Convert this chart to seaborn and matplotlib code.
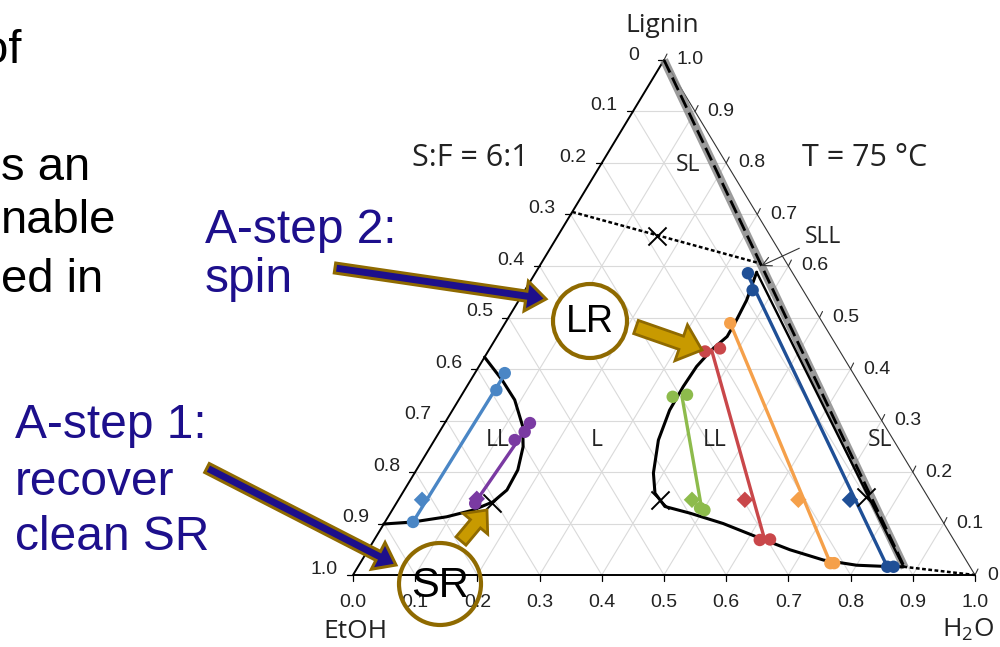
import numpy as np
import pandas as pd
import matplotlib
matplotlib.use("Agg")
import matplotlib.pyplot as plt
import seaborn as sns
from matplotlib.patches import Circle, FancyArrow

# compositions: w = H2O mass fraction, l = lignin mass fraction
left_bin_w = [0.000, 0.050, 0.090, 0.129, 0.149, 0.163, 0.165, 0.154, 0.130, 0.094, 0.045, 0.000]
left_bin_l = [0.423, 0.379, 0.340, 0.288, 0.249, 0.204, 0.165, 0.142, 0.126, 0.113, 0.103, 0.099]

right_bin_w = [0.355, 0.366, 0.369, 0.370, 0.358, 0.350, 0.348, 0.349, 0.360, 0.384,
               0.406, 0.435, 0.482, 0.545, 0.612, 0.678, 0.742, 0.800, 0.861, 0.877]
right_bin_l = [0.588, 0.534, 0.495, 0.463, 0.437, 0.405, 0.366, 0.320, 0.262, 0.198,
               0.159, 0.133, 0.120, 0.100, 0.074, 0.049, 0.029, 0.019, 0.016, 0.016]

sl_edge_w = [0.355, 0.877]          # L / SL boundary closing the right loop
sl_edge_l = [0.588, 0.016]
sl_dash_w = [0.000, 0.880]          # S-L limit from pure lignin
sl_dash_l = [1.000, 0.014]
sll_dot_w = [0.000, 0.352]          # dotted line to SLL point
sll_dot_l = [0.705, 0.605]
tail_dot_w = [0.877, 1.000]
tail_dot_l = [0.016, 0.000]

# tie lines
tie_series = ["blue", "purple", "green", "red", "orange", "navy"]
tie_colors = ["#4a86c5", "#7a3aa2", "#8dbb4c", "#c9474a", "#f5a04a", "#1f4f96"]
tie_w = [[0.045, 0.049], [0.126, 0.137], [0.356, 0.498],
         [0.358, 0.628], [0.362, 0.756], [0.345, 0.851]]
tie_l = [[0.103, 0.392], [0.139, 0.295], [0.346, 0.126],
         [0.437, 0.068], [0.489, 0.023], [0.581, 0.016]]

# measured phase compositions (circles)
phase_w = [[0.045, 0.051, 0.048], [0.127, 0.129, 0.137, 0.137], [0.341, 0.362, 0.493, 0.502],
           [0.349, 0.370, 0.620, 0.636], [0.362, 0.756, 0.762], [0.342, 0.366, 0.851, 0.861]]
phase_l = [[0.103, 0.359, 0.392], [0.139, 0.262, 0.278, 0.295], [0.346, 0.350, 0.130, 0.126],
           [0.434, 0.440, 0.068, 0.069], [0.489, 0.023, 0.023], [0.586, 0.553, 0.016, 0.016]]

# overall feed compositions (diamonds)
feed_w = [0.038, 0.125, 0.472, 0.557, 0.643, 0.726]
feed_l = [0.146, 0.148, 0.146, 0.146, 0.146, 0.146]

# critical / invariant points (crosses)
cross_w = [0.154, 0.421, 0.749, 0.160]
cross_l = [0.139, 0.146, 0.152, 0.658]

ticks = [round(0.1 * i, 1) for i in range(11)]
left_labels = ["0"] + [f"{t:.1f}" for t in ticks[1:]]        # EtOH on left edge
right_labels = [f"{t:.1f}" for t in ticks[::-1][:-1]] + ["0"]   # lignin on right edge
bottom_labels = [f"{t:.1f}" for t in ticks]                     # H2O on bottom edge

NAVY = "#1d0f8c"
GOLD = "#8f6a00"
GOLD_FILL = "#c89a00"
GRID = "#dadada"


def tern(w, l):
    w = np.asarray(w, float)
    l = np.asarray(l, float)
    return w + l / 2, l


rows = []
for name, ws, ls in zip(tie_series, tie_w, tie_l):
    x, y = tern(ws, ls)
    for i in range(len(x)):
        rows.append({"series": name, "x": x[i], "y": y[i], "order": i})
ties = pd.DataFrame(rows)

rows = []
for name, ws, ls in zip(tie_series, phase_w, phase_l):
    x, y = tern(ws, ls)
    for i in range(len(x)):
        rows.append({"series": name, "x": x[i], "y": y[i]})
phases = pd.DataFrame(rows)

fx, fy = tern(feed_w, feed_l)
feeds = pd.DataFrame({"series": tie_series, "x": fx, "y": fy})
palette = dict(zip(tie_series, tie_colors))

sns.set_theme(style="white")
plt.rcParams["font.family"] = ["Liberation Sans", "DejaVu Sans"]

fig = plt.figure(figsize=(10, 6.47), dpi=100)
ax = fig.add_axes([0, 0, 1, 1])
ax.set_xlim(-0.5675, 1.0402)
ax.set_ylim(-0.1398, 1.1165)
ax.axis("off")

# ternary grid
for v in ticks[1:-1]:
    ax.plot(*tern([0, 1 - v], [v, v]), color=GRID, lw=0.8, zorder=1)
    ax.plot(*tern([v, v], [0, 1 - v]), color=GRID, lw=0.8, zorder=1)
    ax.plot(*tern([v, 0], [0, v]), color=GRID, lw=0.8, zorder=1)

# edges
ax.plot(*tern([1, 0, 0], [0, 0, 1]), color="black", lw=1.4, zorder=2)
ax.plot(*tern([0, 1], [1, 0]), color="#333333", lw=0.8, zorder=2)

# ticks and tick labels
dx, dy = 6 / 622, 6 / 515
for t, lab in zip(ticks, left_labels):
    x, y = tern(0, 1 - t)
    ax.plot([x, x - dx], [y, y], color="black", lw=0.9, zorder=2)
    off = (-18, 3) if t == 0 else (-11, 4)
    ax.annotate(lab, (x, y), xytext=off, textcoords="offset points",
                ha="right", va="center", fontsize=14, color="#222222")
for t, lab in zip(ticks[::-1], right_labels):
    x, y = tern(1 - t, t)
    ax.plot([x, x + dx / 2], [y, y + dy], color="#333333", lw=0.8, zorder=2)
    ax.annotate(lab, (x, y), xytext=(9, 0), textcoords="offset points",
                ha="left", va="center", fontsize=14, color="#222222")
for t, lab in zip(ticks, bottom_labels):
    x, y = tern(t, 0)
    ax.plot([x, x], [y, y - dy], color="black", lw=0.9, zorder=2)
    ax.annotate(lab, (x, y), xytext=(0, -20), textcoords="offset points",
                ha="center", va="center", fontsize=14, color="#222222")

# phase boundaries
ax.plot(*tern(sl_dash_w, sl_dash_l), color="#8a8a8a", lw=6, alpha=0.85, zorder=2.5,
        solid_capstyle="butt")
ax.plot(*tern(sl_dash_w, sl_dash_l), color="black", lw=2.0, ls=(0, (5, 2)), zorder=3)
ax.plot(*tern(sll_dot_w, sll_dot_l), color="black", lw=1.8, ls=(0, (1.5, 1)), zorder=3)
ax.plot(*tern(tail_dot_w, tail_dot_l), color="black", lw=1.8, ls=(0, (1.5, 1)), zorder=3)

bx, by = tern(left_bin_w, left_bin_l)
sns.lineplot(x=bx, y=by, sort=False, estimator=None, color="black", lw=2.2, ax=ax, zorder=3)
bx, by = tern(right_bin_w, right_bin_l)
sns.lineplot(x=bx, y=by, sort=False, estimator=None, color="black", lw=2.2, ax=ax, zorder=3)
ax.plot(*tern(sl_edge_w, sl_edge_l), color="black", lw=1.7, zorder=3)

# tie lines, phase points and feeds
sns.lineplot(data=ties, x="x", y="y", hue="series", units="series", estimator=None,
             sort=False, palette=palette, lw=2.4, legend=False, ax=ax, zorder=4)
sns.scatterplot(data=phases, x="x", y="y", hue="series", palette=palette, s=80,
                marker="o", edgecolor="none", legend=False, ax=ax, zorder=5)
sns.scatterplot(data=feeds, x="x", y="y", hue="series", palette=palette, s=70,
                marker="D", edgecolor="none", legend=False, ax=ax, zorder=5)
cx, cy = tern(cross_w, cross_l)
ax.scatter(cx, cy, marker="x", s=170, color="black", lw=1.4, zorder=6)

# region labels
lab_font = ["Open Sans", "DejaVu Sans"]
for s, w, l in [("SL", 0.141, 0.796), ("LL", 0.102, 0.262), ("L", 0.260, 0.262),
                ("LL", 0.451, 0.262), ("SL", 0.716, 0.262)]:
    x, y = tern(w, l)
    ax.text(x, y, s, ha="center", va="center", fontsize=16.5, color="#222222",
            family=lab_font, zorder=6)
ax.annotate("SLL", xy=tern(0.356, 0.600), xytext=tern(0.428, 0.656),
            ha="center", va="center", fontsize=16.5, color="#222222", family=lab_font,
            arrowprops=dict(arrowstyle="->", color="#333333", lw=0.8,
                            shrinkA=2, shrinkB=0), zorder=6)

# overlay in pixel units for slide annotations
ov = fig.add_axes([0, 0, 1, 1])
ov.set_xlim(0, 1000)
ov.set_ylim(647, 0)
ov.axis("off")
ov.patch.set_alpha(0)

ov.text(662, 25, "Lignin", ha="center", va="center", fontsize=19, family=lab_font, color="#222222")
ov.text(355, 632, "EtOH", ha="center", va="center", fontsize=19, family=lab_font, color="#222222")
ov.text(968, 630, r"H$_\mathregular{2}$O", ha="center", va="center", fontsize=19,
        family=lab_font, color="#222222")
ov.text(470, 158, "S:F = 6:1", ha="center", va="center", fontsize=22, family=lab_font, color="#222222")
ov.text(865, 158, "T = 75 °C", ha="center", va="center", fontsize=22, family=lab_font, color="#222222")

# slide body text, cut off by the crop on the left
ov.text(21, 63, "of", ha="right", va="baseline", fontsize=34, color="black")
for s, yb in [("s an", 180), ("nable", 233), ("ed in", 292)]:
    ov.text(1, yb, s, ha="left", va="baseline", fontsize=34, color="black")
for s, xl, yb in [("A-step 2:", 205, 243), ("spin", 205, 292), ("A-step 1:", 15, 438),
                  ("recover", 15, 495), ("clean SR", 15, 550)]:
    ov.text(xl, yb, s, ha="left", va="baseline", fontsize=34.5, color=NAVY)

# navy arrows from the text
for x0, y0, x1, y1 in [(335, 268, 546, 299), (207, 468, 396, 565)]:
    ov.add_patch(FancyArrow(x0, y0, x1 - x0, y1 - y0, width=10, head_width=30,
                            head_length=20, length_includes_head=True,
                            fc=NAVY, ec=GOLD, lw=2.2, zorder=7))
# gold block arrows
ov.add_patch(FancyArrow(636, 327, 66, 23, width=14, head_width=38, head_length=22,
                        length_includes_head=True, fc=GOLD_FILL, ec=GOLD, lw=2, zorder=7))
ov.add_patch(FancyArrow(461, 541, 26, -31, width=13, head_width=32, head_length=18,
                        length_includes_head=True, fc=GOLD_FILL, ec=GOLD, lw=2, zorder=7))

# LR / SR circles
ov.add_patch(Circle((590, 321), 37, fc="white", ec=GOLD, lw=3, zorder=7))
ov.text(590, 322, "LR", ha="center", va="center", fontsize=27, color="black", zorder=8)
ov.add_patch(Circle((440, 584), 41, fc="none", ec=GOLD, lw=3, zorder=7))
ov.text(440, 586, "SR", ha="center", va="center", fontsize=30, color="black", zorder=8)

fig.savefig("out.png", dpi=100)
